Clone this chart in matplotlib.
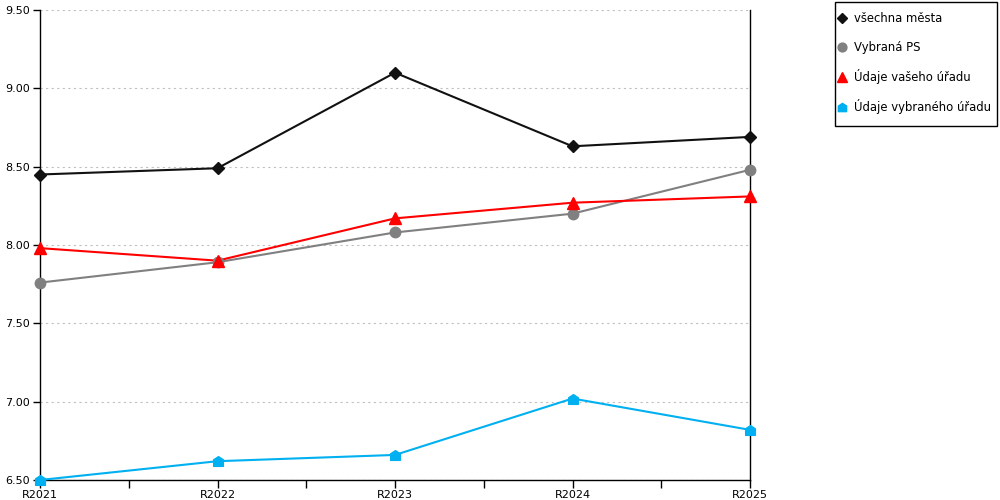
import matplotlib
matplotlib.use("Agg")
import matplotlib.pyplot as plt
from matplotlib.path import Path
from matplotlib.patches import Rectangle
from matplotlib.ticker import MultipleLocator, FixedLocator

categories = ["R2021", "R2022", "R2023", "R2024", "R2025"]
vsechna_mesta = [8.45, 8.49, 9.10, 8.63, 8.69]
vybrana_ps = [7.76, 7.89, 8.08, 8.20, 8.48]
udaje_vaseho = [7.98, 7.90, 8.17, 8.27, 8.31]
udaje_vybraneho = [6.50, 6.62, 6.66, 7.02, 6.82]
series_names = ["všechna města", "Vybraná PS", "Údaje vašeho úřadu", "Údaje vybraného úřadu"]

house = Path([(-1, -1), (1, -1), (1, 0.35), (0, 1), (-1, 0.35), (-1, -1)],
             [Path.MOVETO, Path.LINETO, Path.LINETO, Path.LINETO, Path.LINETO, Path.CLOSEPOLY])

plt.rcParams['font.family'] = ['DejaVu Sans']
fig = plt.figure(figsize=(10, 5), dpi=100)
ax = fig.add_axes([0.04, 0.04, 0.71, 0.94])

x = list(range(len(categories)))
styles = [
    (vsechna_mesta, "#111111", "D", 6),
    (vybrana_ps, "#808080", "o", 7.5),
    (udaje_vaseho, "#ff0000", "^", 8),
    (udaje_vybraneho, "#00b0f0", house, 7),
]
handles = []
for (vals, col, mk, ms), name in zip(styles, series_names):
    ax.plot(x, vals, color=col, lw=1.5, zorder=3, clip_on=False)
    ax.plot(x, vals, ls='none', marker=mk, ms=ms, color=col, mec=col, zorder=4, clip_on=False)
    h, = ax.plot([], [], ls='none', marker=mk, ms=ms * 0.85, color=col, mec=col, label=name)
    handles.append(h)

ax.set_xlim(0, len(categories) - 1)
ax.set_ylim(6.5, 9.5)
ax.set_xticks(x)
ax.set_xticklabels(categories, fontsize=8)
ax.xaxis.set_minor_locator(FixedLocator([i + 0.5 for i in x[:-1]]))
ax.yaxis.set_major_locator(MultipleLocator(0.5))
ax.yaxis.set_major_formatter(matplotlib.ticker.FormatStrFormatter('%.2f'))
ax.tick_params(axis='y', labelsize=8, length=5, width=1, pad=2)
ax.tick_params(axis='x', which='both', length=6, width=1, pad=1)
ax.grid(axis='y', color='#c0c0c0', ls=(0, (2, 3)), lw=0.8)
for s in ['left', 'bottom', 'right']:
    ax.spines[s].set_color('black')
    ax.spines[s].set_linewidth(1)
ax.spines['top'].set_visible(False)

fig.patches.append(Rectangle((0.835, 0.748), 0.162, 0.248, transform=fig.transFigure,
                             fill=False, edgecolor='black', lw=1))
leg = fig.legend(handles=handles, loc='upper left', bbox_to_anchor=(0.838, 0.975),
                 fontsize=8.4, frameon=False,
                 labelspacing=1.3, handlelength=0.7, handletextpad=0.65,
                 borderpad=0, borderaxespad=0)

fig.savefig("out.png", dpi=100)
